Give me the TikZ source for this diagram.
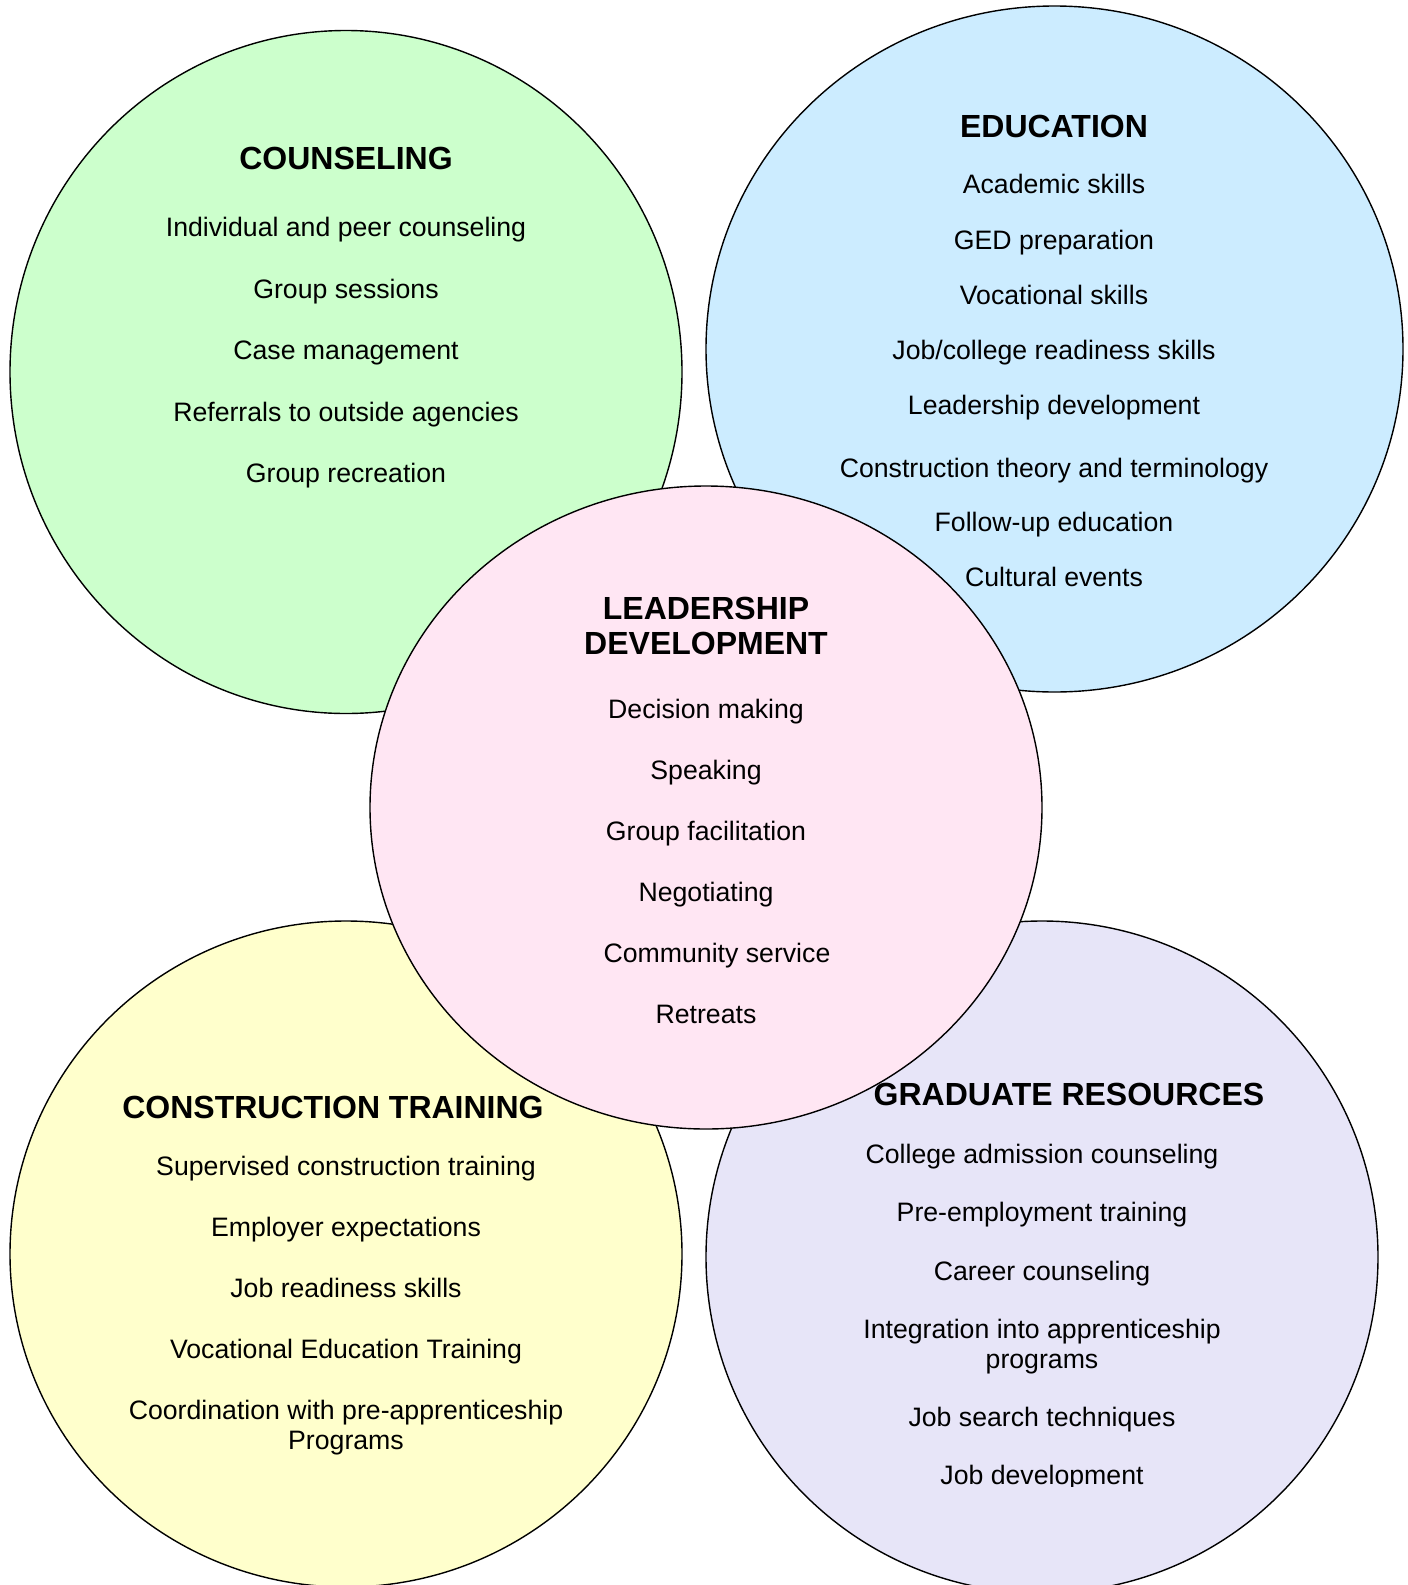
\documentclass[tikz,border=0pt]{standalone}
\usepackage{fontspec}
\setmainfont{Liberation Sans}
\definecolor{cgreen}{HTML}{CCFFCC}
\definecolor{cblue}{HTML}{CCECFF}
\definecolor{cpink}{HTML}{FFE6F3}
\definecolor{cyellow}{HTML}{FFFFCC}
\definecolor{clav}{HTML}{E7E5F8}
\begin{document}
\begin{tikzpicture}[x=1pt,y=-1pt,
  circ/.style={draw=black,line width=1.4pt},
  ttl/.style={font=\fontsize{32}{35}\selectfont\bfseries,anchor=base,inner sep=0pt,align=center},
  itm/.style={font=\fontsize{26.67}{30}\selectfont,anchor=base,inner sep=0pt,align=center}]
\useasboundingbox (0,0) rectangle (1408,1585);
\fill[white] (0,0) rectangle (1408,1585);
% circles
\draw[circ,fill=cgreen] (346,372) ellipse [x radius=336pt, y radius=341.5pt];
\draw[circ,fill=cblue] (1054.5,349) ellipse [x radius=348.5pt, y radius=343pt];
\draw[circ,fill=cyellow] (346,1254) ellipse [x radius=336pt, y radius=333pt];
\draw[circ,fill=clav] (1042,1257) ellipse [x radius=336pt, y radius=336pt];
\draw[circ,fill=cpink] (706,807.5) ellipse [x radius=336pt, y radius=321.5pt];
% counseling
\node[ttl] (c0) at (346,169) {COUNSELING};
\node[itm] (c1) at (346,236.5) {Individual and peer counseling};
\node[itm] (c2) at (346,298) {Group sessions};
\node[itm] (c3) at (346,359.5) {Case management};
\node[itm] (c4) at (346,421) {Referrals to outside agencies};
\node[itm] (c5) at (346,482) {Group recreation};
% education
\node[ttl] (e0) at (1054,137.7) {EDUCATION};
\node[itm] (e1) at (1054,193.8) {Academic skills};
\node[itm] (e2) at (1054,249.2) {GED preparation};
\node[itm] (e3) at (1054,304) {Vocational skills};
\node[itm] (e4) at (1054,359) {Job/college readiness skills};
\node[itm] (e5) at (1054,414.5) {Leadership development};
\node[itm] (e6) at (1054,477.5) {Construction theory and terminology};
\node[itm] (e7) at (1054,531.7) {Follow-up education};
\node[itm] (e8) at (1054,586.3) {Cultural events};
% leadership
\node[ttl] (l0a) at (706,619) {LEADERSHIP};
\node[ttl] (l0b) at (706,654) {DEVELOPMENT};
\node[itm] (l1) at (706,718) {Decision making};
\node[itm] (l2) at (706,779.7) {Speaking};
\node[itm] (l3) at (706,840.7) {Group facilitation};
\node[itm] (l4) at (706,901) {Negotiating};
\node[itm] (l5) at (717,962.7) {Community service};
\node[itm] (l6) at (706,1023.8) {Retreats};
% construction
\node[ttl] (t0) at (333,1118.4) {CONSTRUCTION TRAINING};
\node[itm] (t1) at (346,1175.2) {Supervised construction training};
\node[itm] (t2) at (346,1236.4) {Employer expectations};
\node[itm] (t3) at (346,1297.6) {Job readiness skills};
\node[itm] (t4) at (346,1358.7) {Vocational Education Training};
\node[itm] (t5a) at (346,1419.9) {Coordination with pre-apprenticeship};
\node[itm] (t5b) at (346,1449.6) {Programs};
% graduate
\node[ttl] (g0) at (1069,1105.3) {GRADUATE RESOURCES};
\node[itm] (g1) at (1042,1163) {College admission counseling};
\node[itm] (g2) at (1042,1221) {Pre-employment training};
\node[itm] (g3) at (1042,1280) {Career counseling};
\node[itm] (g4a) at (1042,1338.2) {Integration into apprenticeship};
\node[itm] (g4b) at (1042,1368.3) {programs};
\node[itm] (g5) at (1042,1426.4) {Job search techniques};
\begin{scope}
\clip (800,1450) rectangle (1300,1486.5);
\node[itm] (g6) at (1042,1484.5) {Job development};
\end{scope}
\end{tikzpicture}
\end{document}
